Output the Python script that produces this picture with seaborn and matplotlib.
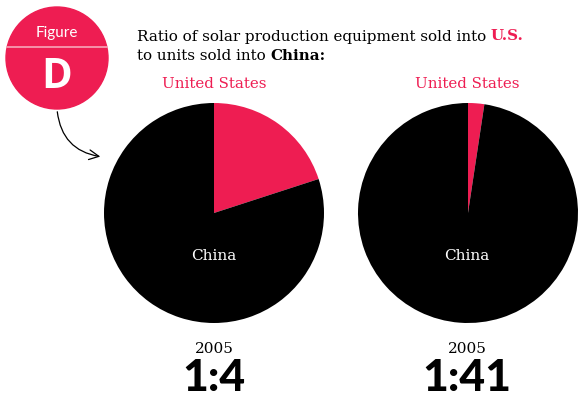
import numpy as np
import matplotlib
matplotlib.use("Agg")
import matplotlib.pyplot as plt
from matplotlib.patches import Circle, FancyArrowPatch
import seaborn as sns

# data
regions = ["United States", "China"]
us_units = [1, 1]
china_units = [4, 41]
years = ["2005", "2005"]
ratio_labels = ["1:4", "1:41"]

PINK = "#ee1d52"
BLACK = "#000000"
SERIF = "DejaVu Serif"

sns.set_style("white")
colors = sns.color_palette([PINK, BLACK])

W, H = 580, 399
fig = plt.figure(figsize=(W / 100, H / 100), dpi=100)

# pie positions in pixels (left, top, size)
pie_boxes = [(104, 103, 220), (358, 103, 220)]

for i, (left, top, size) in enumerate(pie_boxes):
    ax = fig.add_axes([left / W, 1 - (top + size) / H, size / W, size / H])
    ax.pie([us_units[i], china_units[i]], colors=colors, startangle=90,
           counterclock=False, radius=1, wedgeprops=dict(linewidth=0))
    ax.set_xlim(-1, 1)
    ax.set_ylim(-1, 1)
    ax.set_aspect("equal")
    ax.axis("off")

# overlay in pixel coordinates for text and decorations
ov = fig.add_axes([0, 0, 1, 1])
ov.set_xlim(0, W)
ov.set_ylim(H, 0)
ov.axis("off")
ov.patch.set_alpha(0)

# badge
ov.add_patch(Circle((57, 58), 51, color=PINK, zorder=2))
ov.plot([7, 107], [47, 47], color="#f7a5b9", lw=1.2, zorder=3)
ov.text(57, 37, "Figure", color="white", fontsize=11, family="Lato",
        ha="center", va="baseline", zorder=4)
ov.text(57, 87.5, "D", color="white", fontsize=30, family="Open Sans",
        fontweight="bold", ha="center", va="baseline", zorder=4)
arrow = FancyArrowPatch((57, 109), (103, 157), connectionstyle="arc3,rad=0.4",
                        arrowstyle="->,head_length=7,head_width=3.5", color=BLACK,
                        lw=0.9, mutation_scale=1)
ov.add_patch(arrow)

# title with mixed styles
renderer = fig.canvas.get_renderer()
inv = ov.transData.inverted()


def run_text(x, y, parts):
    for txt, color, weight in parts:
        t = ov.text(x, y, txt, color=color, fontweight=weight, fontsize=10.9,
                    family=SERIF, ha="left", va="baseline")
        bb = t.get_window_extent(renderer)
        x = inv.transform((bb.x1, bb.y0))[0]


run_text(137, 40.5, [("Ratio of solar production equipment sold into ", BLACK, "normal"),
                     ("U.S.", PINK, "bold")])
run_text(137, 60, [("to units sold into ", BLACK, "normal"),
                   ("China:", BLACK, "bold")])

centers = [214, 467]
for i, cx in enumerate(centers):
    ov.text(cx, 88, regions[0], color=PINK, fontsize=10.8, family=SERIF,
            ha="center", va="baseline")
    ov.text(cx, 260, regions[1], color="white", fontsize=11, family=SERIF,
            ha="center", va="baseline")
    ov.text(cx, 353, years[i], color=BLACK, fontsize=11, family=SERIF,
            ha="center", va="baseline")
    ov.text(cx, 391, ratio_labels[i], color=BLACK, fontsize=32,
            family="Lato", fontweight="black", ha="center", va="baseline")

fig.savefig("out.png", dpi=100, facecolor="white")
